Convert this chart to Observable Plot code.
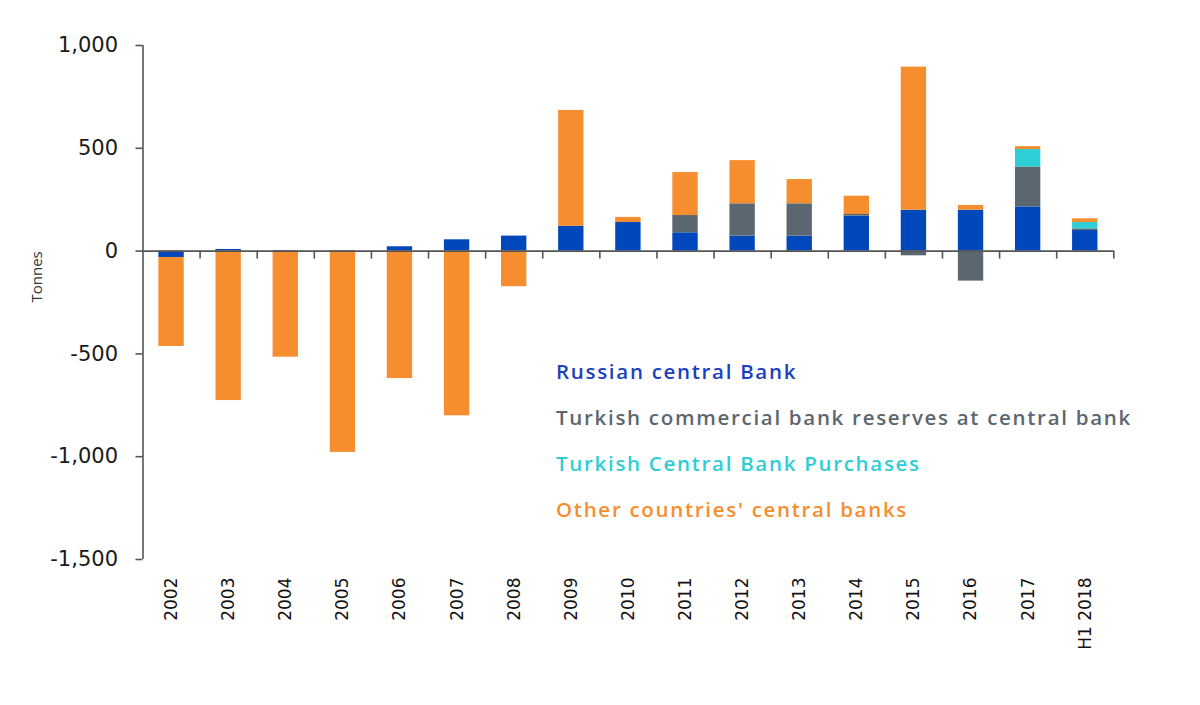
<!DOCTYPE html>
<html>
<head>
<meta charset="utf-8">
<script src="https://cdn.jsdelivr.net/npm/d3@7"></script>
<script src="https://cdn.jsdelivr.net/npm/@observablehq/plot@0.6"></script>
<style>
  html, body { margin: 0; padding: 0; background: #fff; }
  #wrap { position: relative; width: 1200px; height: 705px; }
  #legend { position: absolute; left: 556px; top: 348px; font-family: "Open Sans", sans-serif; font-weight: 600; font-size: 20.5px; letter-spacing: 1.7px; line-height: 46px; }
  #legend div { white-space: nowrap; height: 46px; }
</style>
</head>
<body>
<div id="wrap"><div id="legend"></div></div>
<script>
const categories = ["2002","2003","2004","2005","2006","2007","2008","2009","2010","2011","2012","2013","2014","2015","2016","2017","H1 2018"];
const russian     = [-31,   8,    3,    2,   21,   55,   73,  121, 139,  89,  73,  73, 170, 199,  199, 215, 100];
const turkComm    = [  0,   0,    0,    0,    0,    0,    0,    0,   0,  84, 157, 157,   8, -23, -146, 194,   8];
const turkCB      = [  0,   0,    0,    0,    0,    0,    0,    0,   0,   0,   0,   0,   0,   0,    0,  85,  31];
const otherCB     = [-433, -727, -516, -979, -620, -801, -173, 563,  25, 209, 210, 118,  89, 696,   23,  14,  18];
const seriesNames = ["Russian central Bank", "Turkish commercial bank reserves at central bank", "Turkish Central Bank Purchases", "Other countries' central banks"];
const seriesColors = ["#0047BB", "#5B6770", "#2ECED6", "#F68D2E"];
const legendColors = ["#1C3FC0", "#5B6770", "#2ECED6", "#F68D2E"];
const yTicks = [1000, 500, 0, -500, -1000, -1500];

const seriesValues = [russian, turkComm, turkCB, otherCB];
const rows = categories.flatMap((c, i) => seriesValues.map((arr, j) => ({year: c, series: seriesNames[j], value: arr[i]})));

const W = 1200, H = 705, mL = 142.5, mR = 86.7, mT = 45, mB = 146;
const step = (W - mL - mR) / categories.length;

const chart = Plot.plot({
  width: W, height: H,
  marginLeft: mL, marginRight: mR, marginTop: mT, marginBottom: mB,
  style: {fontFamily: "DejaVu Sans, Verdana, sans-serif", background: "#fff"},
  x: {domain: categories, paddingInner: 0.556, paddingOuter: 0.278, round: false, axis: null},
  y: {domain: [-1500, 1000], axis: null},
  color: {domain: seriesNames, range: seriesColors},
  marks: [
    Plot.barY(rows, {x: "year", y: "value", fill: "series"}),
    Plot.ruleY([0], {stroke: "#555", strokeWidth: 1.6}),
    Plot.ruleX([categories[0]], {dx: -step / 2, y1: -1500, y2: 1000, stroke: "#555", strokeWidth: 1.6}),
    Plot.ruleX(categories, {y1: 0, y2: 0, insetBottom: -8, dx: step / 2, stroke: "#555", strokeWidth: 1.6}),
    Plot.axisY({ticks: yTicks, tickFormat: d => d.toLocaleString("en-US"), tickSize: 7, tickPadding: 18, fontSize: 21, stroke: "#555", strokeWidth: 1.6, color: "#1a1a1a", label: null}),
    Plot.axisX({anchor: "bottom", tickSize: 0, tickPadding: 18, tickRotate: -90, fontSize: 17, color: "#111", label: null}),
    Plot.text(["Tonnes"], {frameAnchor: "left", dx: -106, rotate: -90, fontSize: 15, fontFamily: "Open Sans, sans-serif", fill: "#333"})
  ]
});
document.getElementById("wrap").prepend(chart);
const legend = document.getElementById("legend");
seriesNames.forEach((s, i) => {
  const d = document.createElement("div");
  d.textContent = s;
  d.style.color = legendColors[i];
  legend.appendChild(d);
});
</script>
</body>
</html>
